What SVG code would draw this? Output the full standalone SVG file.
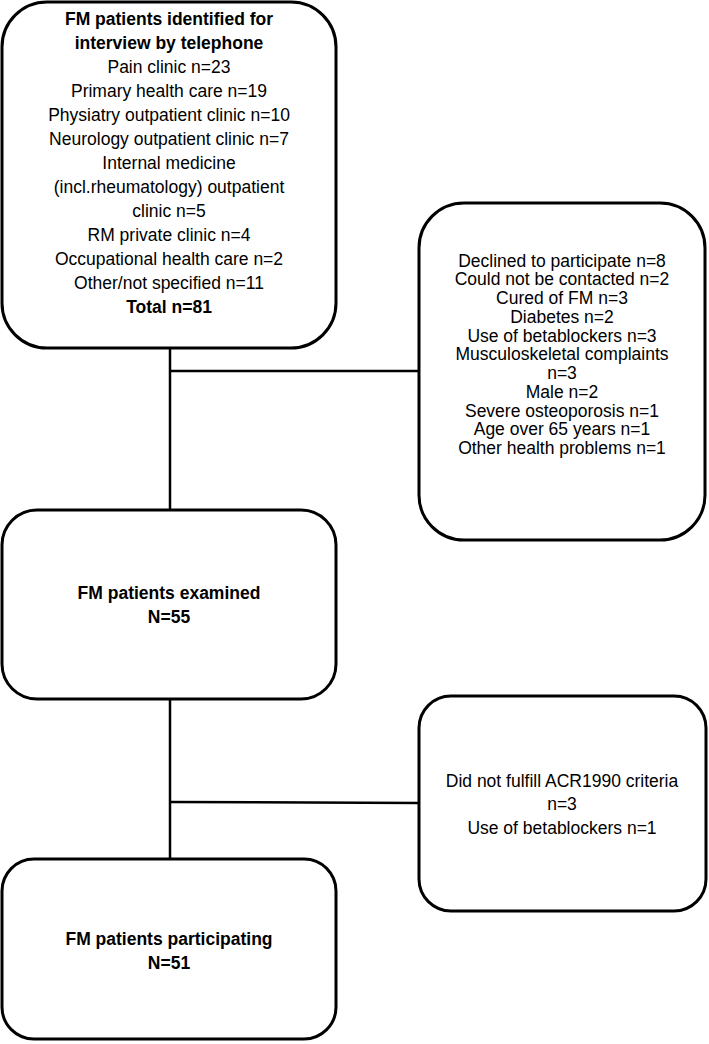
<svg xmlns="http://www.w3.org/2000/svg" width="709" height="1044" viewBox="0 0 709 1044">
<style>
.box{fill:#fff;stroke:#000;stroke-width:3}
.ln{stroke:#000;stroke-width:2.5;fill:none}
text{font-family:"Liberation Sans",Arial,sans-serif;font-size:17.5px;fill:#000;text-anchor:middle}
.b{font-weight:bold}
</style>
<rect width="709" height="1044" fill="#fff"/>
<g id="connectors">
<line class="ln" x1="170" y1="348" x2="170" y2="510"/>
<line class="ln" x1="170" y1="371" x2="419" y2="371"/>
<line class="ln" x1="170" y1="699" x2="170" y2="859"/>
<line class="ln" x1="170" y1="802" x2="419" y2="803"/>
</g>
<g id="n1">
<rect class="box" x="2" y="2" width="334" height="346" rx="45"/>
<text x="169" y="25" class="b">FM patients identified for</text>
<text x="169" y="49" class="b">interview by telephone</text>
<text x="169" y="73">Pain clinic n=23</text>
<text x="169" y="97">Primary health care n=19</text>
<text x="169" y="121">Physiatry outpatient clinic n=10</text>
<text x="169" y="145">Neurology outpatient clinic n=7</text>
<text x="169" y="169">Internal medicine</text>
<text x="169" y="193">(incl.rheumatology) outpatient</text>
<text x="169" y="217">clinic n=5</text>
<text x="169" y="241">RM private clinic n=4</text>
<text x="169" y="265">Occupational health care n=2</text>
<text x="169" y="289">Other/not specified n=11</text>
<text x="169" y="313" class="b">Total n=81</text>
</g>
<g id="n2">
<rect class="box" x="419" y="203" width="286" height="337" rx="45"/>
<text x="562" y="266.5">Declined to participate n=8</text>
<text x="562" y="285.2">Could not be contacted n=2</text>
<text x="562" y="304">Cured of FM n=3</text>
<text x="562" y="322.7">Diabetes n=2</text>
<text x="562" y="341.5">Use of betablockers n=3</text>
<text x="562" y="360.2">Musculoskeletal complaints</text>
<text x="562" y="379">n=3</text>
<text x="562" y="397.7">Male n=2</text>
<text x="562" y="416.5">Severe osteoporosis n=1</text>
<text x="562" y="435.2">Age over 65 years n=1</text>
<text x="562" y="454">Other health problems n=1</text>
</g>
<g id="n3">
<rect class="box" x="2" y="510" width="334" height="189" rx="35"/>
<text x="169" y="599" class="b">FM patients examined</text>
<text x="169" y="623" class="b">N=55</text>
</g>
<g id="n4">
<rect class="box" x="419" y="696" width="287" height="215" rx="32"/>
<text x="562" y="787">Did not fulfill ACR1990 criteria</text>
<text x="562" y="810">n=3</text>
<text x="562" y="834">Use of betablockers n=1</text>
</g>
<g id="n5">
<rect class="box" x="2" y="859" width="334" height="180" rx="32"/>
<text x="169" y="945" class="b">FM patients participating</text>
<text x="169" y="969" class="b">N=51</text>
</g>
</svg>
